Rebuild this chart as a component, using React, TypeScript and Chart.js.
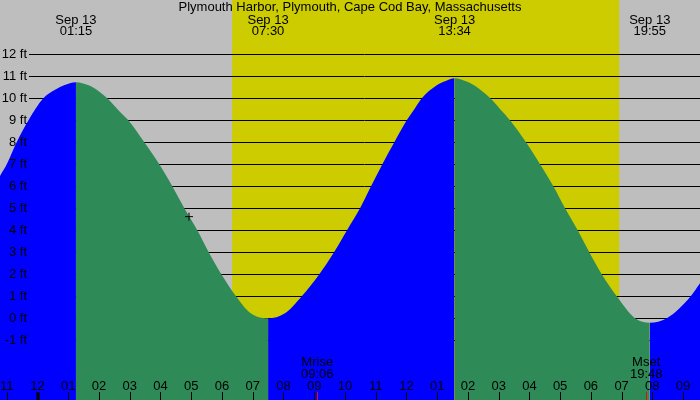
import React, { useEffect, useRef } from "react";
import { Chart, registerables } from "chart.js";

Chart.register(...registerables);

const chartTitle = "Plymouth Harbor, Plymouth, Cape Cod Bay, Massachusetts";

// Tide curve (hours since midnight Sep 13, feet)
const tideHours = [
  -1.22, -1.0, -0.677, -0.293, 0.189, 0.602, 0.862, 1.25,
  1.666, 1.903, 2.271, 2.684, 2.954, 3.474, 3.962, 4.385, 4.776, 5.198, 5.569, 5.979, 6.457, 6.913, 7.5,
  8.051, 8.595, 9.167, 9.645, 10.068, 10.491, 10.849, 11.217, 11.607, 12.01, 12.28, 12.5, 12.986, 13.256, 13.567,
  13.94, 14.2, 14.73, 15.023, 15.371, 15.891, 16.347, 16.779, 17.16, 17.573, 17.95, 18.354, 18.842, 19.437, 19.917,
  20.469, 21.249, 21.55,
];
const tideFeet = [
  6.47, 7, 8, 9, 10, 10.41, 10.59, 10.73,
  10.59, 10.41, 10, 9.38, 9, 8, 7, 6, 5, 4, 3, 2, 1, 0.25, 0.0,
  0.23, 1, 2, 3, 4, 5, 6, 7, 8, 9, 9.55, 10, 10.59, 10.77, 10.91,
  10.77, 10.59, 10, 9.55, 9, 8, 7, 6, 5, 4, 3, 2, 1, 0, -0.2,
  0, 1, 1.59,
];

// High / low tide labels
const extremeHours = [1.25, 7.5, 13.567, 19.917];
const extremeDates = ["Sep 13", "Sep 13", "Sep 13", "Sep 13"];
const extremeTimes = ["01:15", "07:30", "13:34", "19:55"];

// Daylight
const sunriseHour = 6.33;
const sunsetHour = 18.92;

// Moon events
const moonHours = [9.1, 19.8];
const moonNames = ["Mrise", "Mset"];
const moonTimes = ["09:06", "19:48"];

// Hour axis
const hourTicks = [-1, 0, 1, 2, 3, 4, 5, 6, 7, 8, 9, 10, 11, 12, 13, 14, 15, 16, 17, 18, 19, 20, 21];
const hourLabels = ["11", "12", "01", "02", "03", "04", "05", "06", "07", "08", "09", "10", "11", "12", "01", "02", "03", "04", "05", "06", "07", "08", "09"];

// Height axis
const footTicks = [-1, 0, 1, 2, 3, 4, 5, 6, 7, 8, 9, 10, 11, 12];
const footLabels = ["-1 ft", "0 ft", "1 ft", "2 ft", "3 ft", "4 ft", "5 ft", "6 ft", "7 ft", "8 ft", "9 ft", "10 ft", "11 ft", "12 ft"];

// Current-time marker
const markerHours = [4.928];
const markerFeet = [4.62];

const X_MIN = -1.22;
const X_MAX = 21.55;
const Y_MIN = -3.7136;
const Y_MAX = 14.468;

const GRAY = "#BEBEBE";
const YELLOW = "#CCCC00";
const BLUE = "#0000FF";
const GREEN = "#2E8B57";
const FONT = '13px "Liberation Sans", Arial, sans-serif';

const decorPlugin = {
  id: "tideDecor",
  beforeDraw(chart: any) {
    const { ctx, scales } = chart;
    const x = scales.x;
    const y = scales.y;
    const w = chart.width;
    const h = chart.height;
    ctx.save();
    ctx.fillStyle = GRAY;
    ctx.fillRect(0, 0, w, h);
    const sx0 = x.getPixelForValue(sunriseHour);
    const sx1 = x.getPixelForValue(sunsetHour);
    ctx.fillStyle = YELLOW;
    ctx.fillRect(sx0, 0, sx1 - sx0, h);
    ctx.strokeStyle = "#000";
    ctx.lineWidth = 1;
    for (const v of footTicks) {
      const py = Math.round(y.getPixelForValue(v)) + 0.5;
      ctx.beginPath();
      ctx.moveTo(29, py);
      ctx.lineTo(w, py);
      ctx.stroke();
    }
    ctx.restore();
  },
  afterDraw(chart: any) {
    const { ctx, scales } = chart;
    const x = scales.x;
    const y = scales.y;
    const w = chart.width;
    const h = chart.height;
    ctx.save();
    ctx.font = FONT;
    ctx.fillStyle = "#000";
    ctx.textBaseline = "middle";

    // title
    ctx.textAlign = "center";
    ctx.fillText(chartTitle, w / 2, 7.5);

    // extremes
    extremeHours.forEach((hr, i) => {
      const px = x.getPixelForValue(hr);
      ctx.fillText(extremeDates[i], px, 20);
      ctx.fillText(extremeTimes[i], px, 31.5);
    });

    // y labels
    ctx.textAlign = "right";
    footTicks.forEach((v, i) => {
      const py = Math.round(y.getPixelForValue(v)) + 0.5;
      ctx.fillText(footLabels[i], 27, py);
    });

    // hour labels and ticks
    ctx.textAlign = "center";
    hourTicks.forEach((hr, i) => {
      const px = x.getPixelForValue(hr);
      ctx.fillText(hourLabels[i], px, 386);
      ctx.beginPath();
      ctx.strokeStyle = "#000";
      ctx.lineWidth = hr === 0 ? 3 : 1;
      const tx = hr === 0 ? Math.round(px) : Math.round(px) + 0.5;
      ctx.moveTo(tx, 392);
      ctx.lineTo(tx, h);
      ctx.stroke();
    });

    // moon events
    moonHours.forEach((hr, i) => {
      const px = x.getPixelForValue(hr);
      ctx.fillStyle = "#000";
      ctx.fillText(moonNames[i], px, 362);
      ctx.fillText(moonTimes[i], px, 374);
      ctx.beginPath();
      ctx.strokeStyle = "#FF0000";
      ctx.lineWidth = 1;
      const tx = Math.round(px) + 0.5;
      ctx.moveTo(tx, 392);
      ctx.lineTo(tx, h);
      ctx.stroke();
    });
    ctx.restore();
  },
};

export default function App() {
  const canvasRef = useRef<HTMLCanvasElement | null>(null);

  useEffect(() => {
    document.body.style.margin = "0";
    const canvas = canvasRef.current;
    if (!canvas) return;
    const tidePoints = tideHours.map((hr, i) => ({ x: hr, y: tideFeet[i] }));
    const markerPoints = markerHours.map((hr, i) => ({ x: hr, y: markerFeet[i] }));
    const chart = new Chart(canvas, {
      type: "line",
      data: {
        datasets: [
          {
            data: tidePoints,
            fill: "start",
            borderWidth: 0,
            borderColor: "rgba(0,0,0,0)",
            backgroundColor: BLUE,
            pointRadius: 0,
            pointHoverRadius: 0,
            cubicInterpolationMode: "monotone",
            segment: {
              backgroundColor: (c: any) => (c.p1.parsed.y >= c.p0.parsed.y ? BLUE : GREEN),
            },
            order: 2,
          } as any,
          {
            type: "scatter",
            data: markerPoints,
            pointStyle: "cross",
            pointRadius: 4,
            borderColor: "#000",
            borderWidth: 1,
            backgroundColor: "#000",
            showLine: false,
            clip: false,
            order: 1,
          } as any,
        ],
      },
      options: {
        animation: false,
        responsive: false,
        devicePixelRatio: 1,
        layout: { padding: 0, autoPadding: false },
        plugins: {
          legend: { display: false },
          tooltip: { enabled: false },
          title: { display: false },
        },
        events: [],
        scales: {
          x: { type: "linear", min: X_MIN, max: X_MAX, display: false },
          y: { type: "linear", min: Y_MIN, max: Y_MAX, display: false },
        },
      } as any,
      plugins: [decorPlugin],
    });
    return () => chart.destroy();
  }, []);

  return (
    <canvas
      ref={canvasRef}
      width={700}
      height={400}
      style={{ display: "block", width: 700, height: 400 }}
    />
  );
}
